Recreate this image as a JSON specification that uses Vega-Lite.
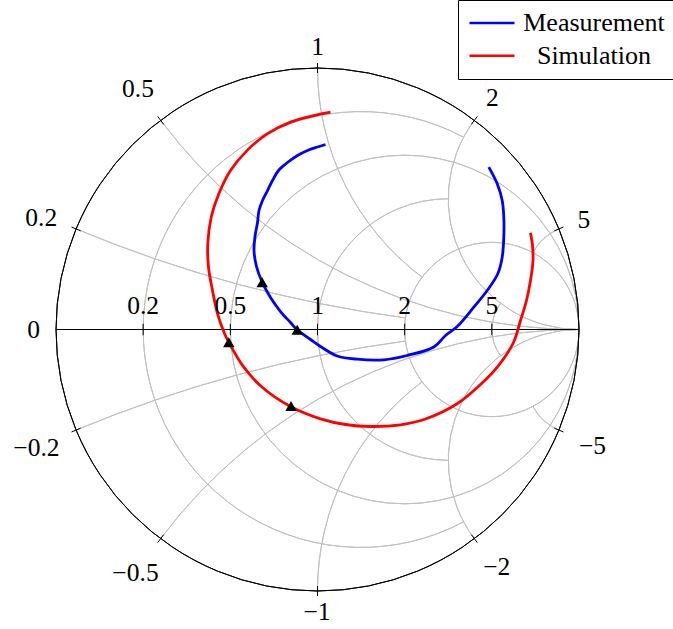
{
  "$schema": "https://vega.github.io/schema/vega-lite/v6.json",
  "width": 523,
  "height": 523,
  "autosize": {"type": "none"},
  "padding": {"left": 56, "top": 68, "right": 94, "bottom": 38},
  "background": "white",
  "config": {"view": {"stroke": null}, "font": "Liberation Serif"},
  "datasets": {
    "grid": [
      {"kind": "r", "val": 0.2, "cx": 0.16667, "cy": 0, "rad": 0.83333, "t1": -208.07, "t2": 28.07},
      {"kind": "r", "val": 0.5, "cx": 0.33333, "cy": 0, "rad": 0.66667, "t1": -180, "t2": 180},
      {"kind": "r", "val": 1, "cx": 0.5, "cy": 0, "rad": 0.5, "t1": -180, "t2": 0},
      {"kind": "r", "val": 2, "cx": 0.66667, "cy": 0, "rad": 0.33333, "t1": -180, "t2": 180},
      {"kind": "r", "val": 5, "cx": 0.83333, "cy": 0, "rad": 0.16667, "t1": -126.87, "t2": -53.13},
      {"kind": "x", "val": 0.2, "cx": 1, "cy": 5, "rad": 5, "t1": 187.63, "t2": 202.62},
      {"kind": "x", "val": 0.5, "cx": 1, "cy": 2, "rad": 2, "t1": 180, "t2": 233.13},
      {"kind": "x", "val": 1, "cx": 1, "cy": 1, "rad": 1, "t1": 216.87, "t2": 270},
      {"kind": "x", "val": 2, "cx": 1, "cy": 0.5, "rad": 0.5, "t1": 180, "t2": 306.87},
      {"kind": "x", "val": 5, "cx": 1, "cy": 0.2, "rad": 0.2, "t1": 298.07, "t2": 337.38},
      {"kind": "x", "val": -0.2, "cx": 1, "cy": -5, "rad": 5, "t1": -22.62, "t2": -7.63},
      {"kind": "x", "val": -0.5, "cx": 1, "cy": -2, "rad": 2, "t1": -53.13, "t2": 0},
      {"kind": "x", "val": -1, "cx": 1, "cy": -1, "rad": 1, "t1": -90, "t2": -36.87},
      {"kind": "x", "val": -2, "cx": 1, "cy": -0.5, "rad": 0.5, "t1": -126.87, "t2": 0},
      {"kind": "x", "val": -5, "cx": 1, "cy": -0.2, "rad": 0.2, "t1": -157.38, "t2": -118.07}
    ],
    "outer": [
      {"cx": 0, "cy": 0, "rad": 1, "t1": 0, "t2": 360}
    ],
    "rules": [
      {"x1": -1, "y1": 0, "x2": 1, "y2": 0},
      {"x1": -0.9056, "y1": 0.3773, "x2": -0.9406, "y2": 0.3919},
      {"x1": -0.5886, "y1": 0.7848, "x2": -0.6114, "y2": 0.8152},
      {"x1": 0, "y1": 0.981, "x2": 0, "y2": 1.019},
      {"x1": 0.5886, "y1": 0.7848, "x2": 0.6114, "y2": 0.8152},
      {"x1": 0.9056, "y1": 0.3773, "x2": 0.9406, "y2": 0.3919},
      {"x1": -0.9056, "y1": -0.3773, "x2": -0.9406, "y2": -0.3919},
      {"x1": -0.5886, "y1": -0.7848, "x2": -0.6114, "y2": -0.8152},
      {"x1": 0, "y1": -0.981, "x2": 0, "y2": -1.019},
      {"x1": 0.5886, "y1": -0.7848, "x2": 0.6114, "y2": -0.8152},
      {"x1": 0.9056, "y1": -0.3773, "x2": 0.9406, "y2": -0.3919},
      {"x1": -0.6667, "y1": -0.022, "x2": -0.6667, "y2": 0.022},
      {"x1": -0.3333, "y1": -0.022, "x2": -0.3333, "y2": 0.022},
      {"x1": 0, "y1": -0.022, "x2": 0, "y2": 0.022},
      {"x1": 0.3333, "y1": -0.022, "x2": 0.3333, "y2": 0.022},
      {"x1": 0.6667, "y1": -0.022, "x2": 0.6667, "y2": 0.022}
    ],
    "curves": [
      {"series": "Measurement", "i": 1, "gx": 0.0306, "gy": 0.7075},
      {"series": "Measurement", "i": 2, "gx": 0.0, "gy": 0.6979},
      {"series": "Measurement", "i": 3, "gx": -0.0382, "gy": 0.6845},
      {"series": "Measurement", "i": 4, "gx": -0.0765, "gy": 0.6654},
      {"series": "Measurement", "i": 5, "gx": -0.1147, "gy": 0.6386},
      {"series": "Measurement", "i": 6, "gx": -0.1491, "gy": 0.608},
      {"series": "Measurement", "i": 7, "gx": -0.1721, "gy": 0.5698},
      {"series": "Measurement", "i": 8, "gx": -0.1912, "gy": 0.5315},
      {"series": "Measurement", "i": 9, "gx": -0.2103, "gy": 0.4933},
      {"series": "Measurement", "i": 10, "gx": -0.2237, "gy": 0.4551},
      {"series": "Measurement", "i": 11, "gx": -0.2294, "gy": 0.4092},
      {"series": "Measurement", "i": 12, "gx": -0.239, "gy": 0.3556},
      {"series": "Measurement", "i": 13, "gx": -0.2428, "gy": 0.3021},
      {"series": "Measurement", "i": 14, "gx": -0.2333, "gy": 0.2409},
      {"series": "Measurement", "i": 15, "gx": -0.2115, "gy": 0.1809},
      {"series": "Measurement", "i": 16, "gx": -0.1797, "gy": 0.1224},
      {"series": "Measurement", "i": 17, "gx": -0.1415, "gy": 0.0688},
      {"series": "Measurement", "i": 18, "gx": -0.1033, "gy": 0.0268},
      {"series": "Measurement", "i": 19, "gx": -0.0776, "gy": -0.0011},
      {"series": "Measurement", "i": 20, "gx": -0.0268, "gy": -0.0382},
      {"series": "Measurement", "i": 21, "gx": 0.0115, "gy": -0.065},
      {"series": "Measurement", "i": 22, "gx": 0.0753, "gy": -0.1013},
      {"series": "Measurement", "i": 23, "gx": 0.1518, "gy": -0.1136},
      {"series": "Measurement", "i": 24, "gx": 0.2535, "gy": -0.1159},
      {"series": "Measurement", "i": 25, "gx": 0.343, "gy": -0.0994},
      {"series": "Measurement", "i": 26, "gx": 0.4447, "gy": -0.0669},
      {"series": "Measurement", "i": 27, "gx": 0.4895, "gy": -0.0229},
      {"series": "Measurement", "i": 28, "gx": 0.5342, "gy": 0.0115},
      {"series": "Measurement", "i": 29, "gx": 0.5977, "gy": 0.0853},
      {"series": "Measurement", "i": 30, "gx": 0.6489, "gy": 0.1491},
      {"series": "Measurement", "i": 31, "gx": 0.6895, "gy": 0.213},
      {"series": "Measurement", "i": 32, "gx": 0.7063, "gy": 0.2765},
      {"series": "Measurement", "i": 33, "gx": 0.7124, "gy": 0.353},
      {"series": "Measurement", "i": 34, "gx": 0.7124, "gy": 0.4294},
      {"series": "Measurement", "i": 35, "gx": 0.7063, "gy": 0.4933},
      {"series": "Measurement", "i": 36, "gx": 0.6872, "gy": 0.5572},
      {"series": "Measurement", "i": 37, "gx": 0.6551, "gy": 0.6207},
      {"series": "Simulation", "i": 1, "gx": 0.0497, "gy": 0.831},
      {"series": "Simulation", "i": 2, "gx": -0.0141, "gy": 0.818},
      {"series": "Simulation", "i": 3, "gx": -0.1033, "gy": 0.793},
      {"series": "Simulation", "i": 4, "gx": -0.1924, "gy": 0.748},
      {"series": "Simulation", "i": 5, "gx": -0.2688, "gy": 0.685},
      {"series": "Simulation", "i": 6, "gx": -0.3327, "gy": 0.608},
      {"series": "Simulation", "i": 7, "gx": -0.3774, "gy": 0.519},
      {"series": "Simulation", "i": 8, "gx": -0.4065, "gy": 0.429},
      {"series": "Simulation", "i": 9, "gx": -0.4195, "gy": 0.328},
      {"series": "Simulation", "i": 10, "gx": -0.4168, "gy": 0.238},
      {"series": "Simulation", "i": 11, "gx": -0.4015, "gy": 0.149},
      {"series": "Simulation", "i": 12, "gx": -0.3824, "gy": 0.061},
      {"series": "Simulation", "i": 13, "gx": -0.3556, "gy": -0.015},
      {"series": "Simulation", "i": 14, "gx": -0.3392, "gy": -0.0486},
      {"series": "Simulation", "i": 15, "gx": -0.2818, "gy": -0.1442},
      {"series": "Simulation", "i": 16, "gx": -0.2103, "gy": -0.2218},
      {"series": "Simulation", "i": 17, "gx": -0.1033, "gy": -0.2945},
      {"series": "Simulation", "i": 18, "gx": 0.0115, "gy": -0.3415},
      {"series": "Simulation", "i": 19, "gx": 0.1071, "gy": -0.3633},
      {"series": "Simulation", "i": 20, "gx": 0.2027, "gy": -0.3709},
      {"series": "Simulation", "i": 21, "gx": 0.3174, "gy": -0.3644},
      {"series": "Simulation", "i": 22, "gx": 0.413, "gy": -0.3423},
      {"series": "Simulation", "i": 23, "gx": 0.5354, "gy": -0.283},
      {"series": "Simulation", "i": 24, "gx": 0.6233, "gy": -0.2103},
      {"series": "Simulation", "i": 25, "gx": 0.6922, "gy": -0.1377},
      {"series": "Simulation", "i": 26, "gx": 0.7495, "gy": -0.0497},
      {"series": "Simulation", "i": 27, "gx": 0.7763, "gy": 0.0344},
      {"series": "Simulation", "i": 28, "gx": 0.7992, "gy": 0.1109},
      {"series": "Simulation", "i": 29, "gx": 0.8145, "gy": 0.1874},
      {"series": "Simulation", "i": 30, "gx": 0.8241, "gy": 0.2639},
      {"series": "Simulation", "i": 31, "gx": 0.8222, "gy": 0.3212},
      {"series": "Simulation", "i": 32, "gx": 0.8145, "gy": 0.3698}
    ],
    "markers": [
      {"series": "Simulation", "gx": -0.3392, "gy": -0.0486},
      {"series": "Simulation", "gx": -0.1013, "gy": -0.2925},
      {"series": "Measurement", "gx": -0.2115, "gy": 0.1809},
      {"series": "Measurement", "gx": -0.0776, "gy": -0.0011}
    ],
    "labels": [
      {"label": "1", "lx": 0, "ly": 1.0795},
      {"label": "2", "lx": 0.6692, "ly": 0.8864},
      {"label": "5", "lx": 1.0184, "ly": 0.4199},
      {"label": "0.5", "lx": -0.6864, "ly": 0.9205},
      {"label": "0.2", "lx": -1.0566, "ly": 0.4264},
      {"label": "0", "lx": -1.086, "ly": -0.002},
      {"label": "−0.2", "lx": -1.0746, "ly": -0.455},
      {"label": "−0.5", "lx": -0.696, "ly": -0.9312},
      {"label": "−1", "lx": -0.002, "ly": -1.0822},
      {"label": "−2", "lx": 0.6853, "ly": -0.909},
      {"label": "−5", "lx": 1.0516, "ly": -0.4436},
      {"label": "0.2", "lx": -0.6667, "ly": 0.088},
      {"label": "0.5", "lx": -0.3333, "ly": 0.088},
      {"label": "1", "lx": 0, "ly": 0.088},
      {"label": "2", "lx": 0.3333, "ly": 0.088},
      {"label": "5", "lx": 0.6667, "ly": 0.088}
    ]
  },
  "layer": [
    {
      "data": {"name": "grid"},
      "mark": {"type": "arc", "filled": false, "stroke": "#c0c0c0", "strokeWidth": 1},
      "encoding": {
        "x": {"field": "cx", "type": "quantitative", "scale": {"domain": [-1, 1], "nice": false, "zero": false}, "axis": null},
        "y": {"field": "cy", "type": "quantitative", "scale": {"domain": [-1, 1], "nice": false, "zero": false}, "axis": null},
        "theta": {"field": "t1", "type": "quantitative", "stack": null, "scale": {"type": "linear", "domain": [0, 360], "range": [0, 6.283185307179586]}},
        "theta2": {"field": "t2"},
        "radius": {"field": "rad", "type": "quantitative", "scale": {"type": "linear", "domain": [0, 1], "range": [0, 261.5]}},
        "radius2": {"field": "rad"}
      }
    },
    {
      "data": {"name": "outer"},
      "mark": {"type": "arc", "filled": false, "stroke": "black", "strokeWidth": 1},
      "encoding": {
        "x": {"field": "cx", "type": "quantitative"},
        "y": {"field": "cy", "type": "quantitative"},
        "theta": {"field": "t1", "type": "quantitative", "stack": null},
        "theta2": {"field": "t2"},
        "radius": {"field": "rad", "type": "quantitative"},
        "radius2": {"field": "rad"}
      }
    },
    {
      "data": {"name": "rules"},
      "mark": {"type": "rule", "color": "black", "strokeWidth": 1},
      "encoding": {
        "x": {"field": "x1", "type": "quantitative"},
        "y": {"field": "y1", "type": "quantitative"},
        "x2": {"field": "x2"},
        "y2": {"field": "y2"}
      }
    },
    {
      "data": {"name": "curves"},
      "mark": {"type": "line", "strokeWidth": 2.8, "strokeJoin": "round", "interpolate": "catmull-rom"},
      "encoding": {
        "x": {"field": "gx", "type": "quantitative"},
        "y": {"field": "gy", "type": "quantitative"},
        "order": {"field": "i", "type": "quantitative"},
        "color": {
          "field": "series",
          "type": "nominal",
          "scale": {"domain": ["Measurement", "Simulation"], "range": ["#0000ff", "#ff0000"]},
          "legend": {
            "title": null,
            "orient": "none",
            "legendX": 402,
            "legendY": -68,
            "symbolType": "stroke",
            "symbolSize": 2025,
            "symbolStrokeWidth": 2.5,
            "clipHeight": 26,
            "labelFont": "Liberation Serif",
            "labelFontSize": 26,
            "labelColor": "black",
            "labelAlign": "center",
            "labelOffset": 78,
            "labelLimit": 400,
            "padding": 10,
            "rowPadding": 6.7,
            "strokeColor": "black",
            "fillColor": "white"
          }
        }
      }
    },
    {
      "data": {"name": "markers"},
      "mark": {"type": "point", "shape": "triangle-up", "filled": true, "color": "black", "size": 130, "opacity": 1},
      "encoding": {
        "x": {"field": "gx", "type": "quantitative"},
        "y": {"field": "gy", "type": "quantitative"}
      }
    },
    {
      "data": {"name": "labels"},
      "mark": {"type": "text", "font": "Liberation Serif", "fontSize": 25.5, "color": "black", "align": "center", "baseline": "middle"},
      "encoding": {
        "x": {"field": "lx", "type": "quantitative"},
        "y": {"field": "ly", "type": "quantitative"},
        "text": {"field": "label"}
      }
    }
  ]
}
